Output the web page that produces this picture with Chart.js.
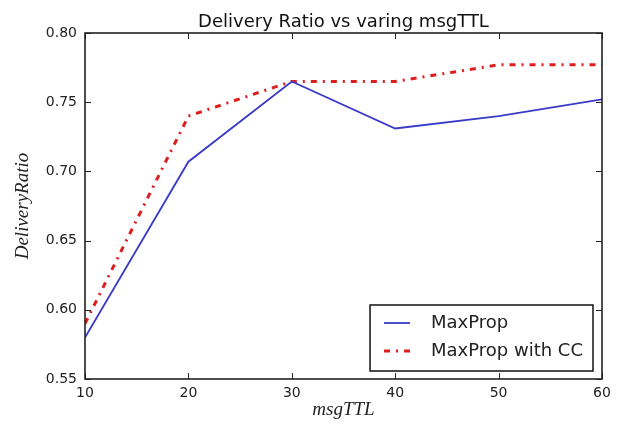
<!DOCTYPE html>
<html>
<head>
<meta charset="utf-8">
<script src="https://cdn.jsdelivr.net/npm/chart.js@4"></script>
<style>
    html, body { margin: 0; padding: 0; background: #fff; }
    #wrap { width: 625px; height: 430px; }
</style>
</head>
<body>
<div id="wrap"><canvas id="deliveryChart" width="625" height="430"></canvas></div>
<script>
const msgTTL = [10, 20, 30, 40, 50, 60];
const maxProp = [0.580, 0.707, 0.765, 0.731, 0.740, 0.752];
const maxPropCC = [0.590, 0.740, 0.765, 0.765, 0.777, 0.777];
const xTickValues = [10, 20, 30, 40, 50, 60];
const yTickValues = [0.55, 0.60, 0.65, 0.70, 0.75, 0.80];
const seriesLabels = ['MaxProp', 'MaxProp with CC'];
const chartTitle = 'Delivery Ratio vs varing msgTTL';

const tickFont = { family: '"DejaVu Sans", sans-serif', size: 14 };
const mathFont = { family: '"Liberation Serif", serif', size: 19, style: 'italic' };

// title, frame with inward ticks and in-plot legend, drawn the matplotlib way
const mplDecor = {
    id: 'mplDecor',
    afterDatasetsDraw(chart) {
        const { ctx, chartArea: a, scales } = chart;
        ctx.save();

        ctx.strokeStyle = '#222';
        ctx.lineWidth = 1;
        scales.x.ticks.forEach(t => {
            const px = Math.round(scales.x.getPixelForValue(t.value)) + 0.5;
            ctx.beginPath();
            ctx.moveTo(px, a.bottom); ctx.lineTo(px, a.bottom - 6);
            ctx.moveTo(px, a.top); ctx.lineTo(px, a.top + 6);
            ctx.stroke();
        });
        scales.y.ticks.forEach(t => {
            const py = Math.round(scales.y.getPixelForValue(t.value)) + 0.5;
            ctx.beginPath();
            ctx.moveTo(a.left, py); ctx.lineTo(a.left + 6, py);
            ctx.moveTo(a.right, py); ctx.lineTo(a.right - 6, py);
            ctx.stroke();
        });

        ctx.lineWidth = 1.6;
        ctx.strokeStyle = '#222';
        ctx.strokeRect(a.left, a.top, a.right - a.left, a.bottom - a.top);

        // title
        ctx.fillStyle = '#111';
        ctx.font = '18px "DejaVu Sans", sans-serif';
        ctx.textAlign = 'center';
        ctx.textBaseline = 'alphabetic';
        ctx.fillText(chartTitle, (a.left + a.right) / 2, 27);

        // legend, lower right inside the axes
        ctx.font = '18px "DejaVu Sans", sans-serif';
        const textW = Math.max(...chart.data.datasets.map(d => ctx.measureText(d.label).width));
        const boxW = 61 + textW + 10;
        const boxH = 66;
        const bx = a.right - 9 - boxW;
        const by = a.bottom - 8 - boxH;
        ctx.fillStyle = '#fff';
        ctx.fillRect(bx, by, boxW, boxH);
        ctx.lineWidth = 1.5;
        ctx.strokeStyle = '#111';
        ctx.strokeRect(bx, by, boxW, boxH);

        chart.data.datasets.forEach((d, i) => {
            const rowY = by + 18 + i * 28;
            ctx.beginPath();
            ctx.strokeStyle = d.borderColor;
            ctx.lineWidth = d.borderWidth;
            ctx.setLineDash(d.borderDash || []);
            ctx.moveTo(bx + 14, rowY);
            ctx.lineTo(bx + 40, rowY);
            ctx.stroke();
            ctx.setLineDash([]);
            ctx.fillStyle = '#222';
            ctx.textAlign = 'left';
            ctx.textBaseline = 'middle';
            ctx.fillText(d.label, bx + 61, rowY);
        });

        ctx.restore();
    }
};

document.addEventListener('DOMContentLoaded', () => {
    const ctx = document.getElementById('deliveryChart');

    new Chart(ctx, {
        type: 'line',
        data: {
            labels: msgTTL,
            datasets: [{
                label: seriesLabels[0],
                data: msgTTL.map((x, i) => ({ x, y: maxProp[i] })),
                borderColor: 'rgb(58, 58, 200)',
                borderWidth: 1.8,
                pointRadius: 0,
                tension: 0,
                fill: false
            }, {
                label: seriesLabels[1],
                data: msgTTL.map((x, i) => ({ x, y: maxPropCC[i] })),
                borderColor: 'rgb(222, 30, 30)',
                borderWidth: 3,
                borderDash: [6, 6, 2, 6],
                borderCapStyle: 'butt',
                pointRadius: 0,
                tension: 0,
                fill: false
            }]
        },
        options: {
            responsive: false,
            animation: false,
            devicePixelRatio: 1,
            layout: { padding: { top: 33, right: 23, left: 0, bottom: 0 } },
            plugins: {
                legend: { display: false },
                title: { display: false },
                tooltip: { enabled: false }
            },
            scales: {
                x: {
                    type: 'linear',
                    min: 10,
                    max: 60,
                    afterBuildTicks: s => { s.ticks = xTickValues.map(v => ({ value: v })); },
                    afterFit: s => { s.height = 51; },
                    grid: { display: false, drawTicks: false },
                    border: { display: false },
                    ticks: { color: '#222', font: tickFont, padding: 6, maxRotation: 0 },
                    title: {
                        display: true,
                        text: 'msgTTL',
                        color: '#222',
                        font: mathFont,
                        padding: { top: 0, bottom: 8.6 }
                    }
                },
                y: {
                    min: 0.55,
                    max: 0.80,
                    afterBuildTicks: s => { s.ticks = yTickValues.map(v => ({ value: v })); },
                    afterFit: s => { s.width = 85; },
                    grid: { display: false, drawTicks: false },
                    border: { display: false },
                    ticks: {
                        color: '#222',
                        font: tickFont,
                        padding: 8,
                        callback: v => Number(v).toFixed(2)
                    },
                    title: {
                        display: true,
                        text: 'DeliveryRatio',
                        color: '#222',
                        font: mathFont,
                        padding: { top: 11.6, bottom: 0 }
                    }
                }
            }
        },
        plugins: [mplDecor]
    });
});
</script>
</body>
</html>
